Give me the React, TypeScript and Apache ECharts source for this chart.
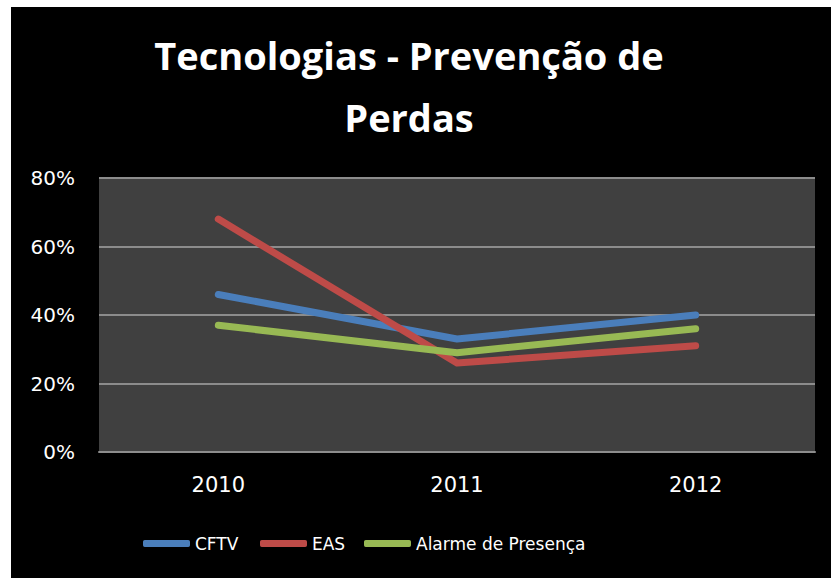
import React, { useEffect, useRef } from "react";
import * as echarts from "echarts";

const years = ["2010", "2011", "2012"];
const cftv = [0.46, 0.33, 0.4];
const eas = [0.68, 0.26, 0.31];
const alarme = [0.37, 0.29, 0.36];
const seriesNames = ["CFTV", "EAS", "Alarme de Presença"];
const colors = ["#4a7ebb", "#be4b48", "#98b954"];
const titleLines = ["Tecnologias - Prevenção de", "Perdas"];
const legendLefts = [143, 260, 364];

export default function App() {
  const ref = useRef<HTMLDivElement>(null);
  useEffect(() => {
    const chart = echarts.init(ref.current!, null, { renderer: "svg" });
    const font = "DejaVu Sans";
    const data = [cftv, eas, alarme];
    const titleFont = "bold 38px 'Open Sans'";
    chart.setOption({
      animation: false,
      backgroundColor: "#ffffff",
      graphic: [
        { type: "rect", z: -10, shape: { x: 11, y: 7, width: 831, height: 578 }, style: { fill: "#000000" } },
        {
          type: "text", x: 409, y: 55,
          style: { text: titleLines[0], fill: "#ffffff", font: titleFont, align: "center", verticalAlign: "middle" },
        },
        {
          type: "text", x: 409, y: 117,
          style: { text: titleLines[1], fill: "#ffffff", font: titleFont, align: "center", verticalAlign: "middle" },
        },
      ],
      grid: {
        left: 99, right: 16, top: 178, bottom: 126,
        show: true, backgroundColor: "#404040", borderWidth: 0,
      },
      legend: seriesNames.map((n, i) => ({
        left: legendLefts[i], top: 535, padding: 0,
        itemWidth: 47, itemHeight: 7,
        icon: "roundRect",
        textStyle: { color: "#ffffff", fontFamily: font, fontSize: 17 },
        data: [n],
      })),
      xAxis: {
        type: "category",
        data: years,
        boundaryGap: true,
        axisLine: { show: true, lineStyle: { color: "#8c8c8c", width: 2 } },
        axisTick: { show: false },
        axisLabel: { color: "#ffffff", fontFamily: font, fontSize: 21, margin: 22 },
      },
      yAxis: {
        type: "value",
        min: 0, max: 0.8, interval: 0.2,
        axisLine: { show: false },
        axisTick: { show: false },
        splitLine: { lineStyle: { color: "#8c8c8c", width: 2 } },
        axisLabel: {
          color: "#ffffff", fontFamily: font, fontSize: 20, margin: 24,
          formatter: (v: number) => Math.round(v * 100) + "%",
        },
      },
      series: seriesNames.map((n, i) => ({
        name: n,
        type: "line",
        data: data[i],
        symbol: "none",
        color: colors[i],
        lineStyle: { width: 7, color: colors[i], cap: "round", join: "round" },
      })),
    });
    return () => chart.dispose();
  }, []);
  return <div ref={ref} style={{ position: "fixed", left: 0, top: 0, width: 831, height: 578 }} />;
}
